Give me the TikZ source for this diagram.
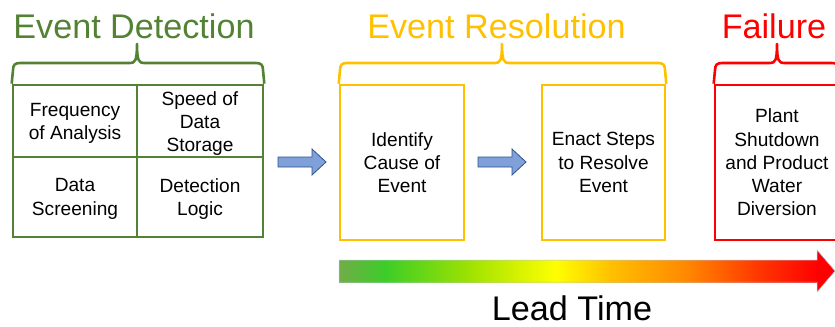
\documentclass[tikz,border=0pt]{standalone}
\usepackage{fontspec}
\setmainfont{Liberation Sans}
\definecolor{detgreen}{HTML}{548235}
\definecolor{resyellow}{HTML}{FFC000}
\definecolor{failred}{HTML}{FF0000}
\definecolor{arrowblue}{RGB}{127,160,216}
\definecolor{arrowedge}{RGB}{47,82,143}
\definecolor{gA}{RGB}{112,173,71}
\definecolor{gB}{RGB}{60,205,40}
\definecolor{gC}{RGB}{160,226,0}
\definecolor{gD}{RGB}{255,255,0}
\definecolor{gE}{RGB}{255,192,0}
\definecolor{gF}{RGB}{255,135,0}
\definecolor{gG}{RGB}{255,60,0}
\definecolor{gH}{RGB}{255,0,0}
\begin{document}
\begin{tikzpicture}[x=1bp,y=-1bp,
  title/.style={font=\fontsize{34.3}{37}\selectfont, inner sep=0pt},
  body/.style={font=\fontsize{19.2}{23.3}\selectfont, align=center, inner sep=0pt},
  cell/.style={draw, line width=2.6bp, minimum width=#1, inner sep=0pt},
  braceline/.style={line width=2.6bp, line join=round},
  blockarrow/.style={fill=arrowblue, draw=arrowedge, line width=0.8bp, line join=miter}
]
\useasboundingbox (0,0) rectangle (835,326);
\clip (0,0) rectangle (835,326);

% ---------- Event Detection ----------
\node[title, text=detgreen, anchor=base] (dettitle) at (134,38) {Event Detection};
\node[cell=124bp, minimum height=72bp, draw=detgreen] (freq) at (75,121) {};
\node[cell=126bp, minimum height=72bp, draw=detgreen] (speed) at (200,121) {};
\node[cell=124bp, minimum height=80bp, draw=detgreen] (screen) at (75,197) {};
\node[cell=126bp, minimum height=80bp, draw=detgreen] (logic) at (200,197) {};
\node[body, yshift=-2.5bp] at (freq.center) {Frequency\\of Analysis};
\node[body, yshift=-2.5bp] at (speed.center) {Speed of\\Data\\Storage};
\node[body, yshift=-2bp] at (screen.center) {Data\\Screening};
\node[body, yshift=-2bp] at (logic.center) {Detection\\Logic};
\draw[braceline, detgreen] (freq.north west) -- (13,70) .. controls (13,65) and (15,63) .. (20,63)
  -- (130,63) .. controls (135,63) and (137,61) .. (137,44)
  .. controls (137,61) and (139,63) .. (144,63) -- (256,63)
  .. controls (261,63) and (263,65) .. (263,70) -- (speed.north east);

% ---------- Event Resolution ----------
\node[title, text=resyellow, anchor=base] (restitle) at (496.5,38) {Event Resolution};
\node[cell=124bp, minimum height=155bp, draw=resyellow] (identify) at (402,162.5) {};
\node[cell=123bp, minimum height=155bp, draw=resyellow] (enact) at (603.5,162.5) {};
\node[body] at (identify.center) {Identify\\Cause of\\Event};
\node[body] at (enact.center) {Enact Steps\\to Resolve\\Event};
\draw[braceline, resyellow] (identify.north west) -- (340,70) .. controls (340,65) and (342,63) .. (347,63)
  -- (495,63) .. controls (500,63) and (502,61) .. (502,44)
  .. controls (502,61) and (504,63) .. (509,63) -- (658,63)
  .. controls (663,63) and (665,65) .. (665,70) -- (enact.north east);

% ---------- Failure ----------
\node[title, text=failred, anchor=base] (failtitle) at (774,38) {Failure};
\node[cell=124bp, minimum height=155bp, draw=failred] (shutdown) at (777,162.5) {};
\node[body] at (shutdown.center) {Plant\\Shutdown\\and Product\\Water\\Diversion};
\draw[braceline, failred] (shutdown.north west) -- (715,70) .. controls (715,65) and (717,63) .. (722,63)
  -- (770,63) .. controls (775,63) and (777,61) .. (777,44)
  .. controls (777,61) and (779,63) .. (784,63) -- (832,63)
  .. controls (837,63) and (839,65) .. (839,70) -- (shutdown.north east);

% ---------- block arrows between stages ----------
\draw[blockarrow] (278,157) -- (312,157) -- (312,149) -- (326,162) -- (312,175) -- (312,167) -- (278,167) -- cycle;
\draw[blockarrow] (478,157) -- (512,157) -- (512,149) -- (526,162) -- (512,175) -- (512,167) -- (478,167) -- cycle;

% ---------- lead time arrow ----------
\shade[left color=gA, right color=gB] (339,260) rectangle (386,282);
\shade[left color=gB, right color=gC] (385,260) rectangle (471,282);
\shade[left color=gC, right color=gD] (470,260) rectangle (556,282);
\shade[left color=gD, right color=gE] (555,260) rectangle (611,282);
\shade[left color=gE, right color=gF] (610,260) rectangle (688,282);
\shade[left color=gF, right color=gG] (687,260) rectangle (754,282);
\shade[left color=gG, right color=gH] (753,260) rectangle (818,282);
\fill[gH] (817,250) -- (835,271) -- (817,292) -- cycle;
\draw[line width=0.5bp, draw={rgb,255:red,180;green,195;blue,220}] (339,260) -- (817,260) -- (817,250) -- (835,271) -- (817,292) -- (817,282) -- (339,282) -- cycle;
\node[title, anchor=base] (leadtime) at (572,320) {Lead Time};
\end{tikzpicture}
\end{document}
